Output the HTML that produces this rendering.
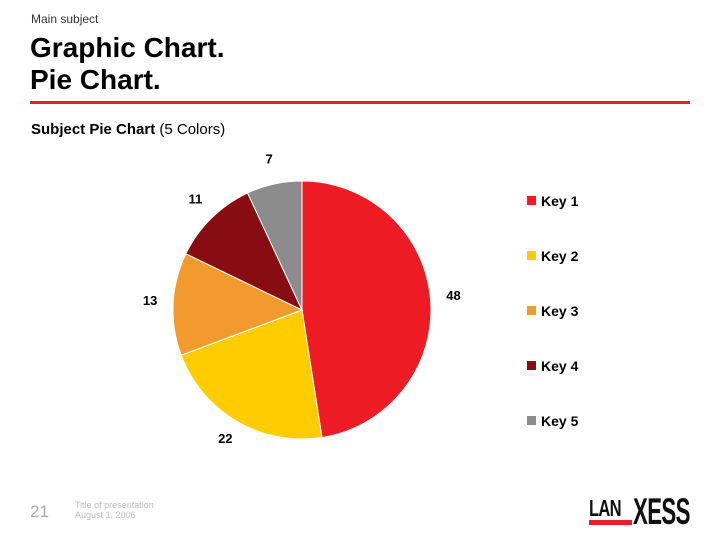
<!DOCTYPE html>
<html><head><meta charset="utf-8"><style>
body{margin:0;width:720px;height:540px;background:#fff;font-family:"Liberation Sans",Arial,sans-serif;position:relative;overflow:hidden}
.a{position:absolute;white-space:nowrap}
</style></head><body>
<div class="a" style="left:31px;top:12px;font-size:12px;color:#333">Main subject</div>
<div class="a" style="left:30px;top:32px;font-size:28px;font-weight:bold;line-height:32px;color:#000">Graphic Chart.<br>Pie Chart.</div>
<div class="a" style="left:30px;top:101px;width:660px;height:3px;background:#d9252f"></div>
<div class="a" style="left:31px;top:121px;font-size:15px;color:#000"><b>Subject Pie Chart</b> (5 Colors)</div>
<svg class="a" style="left:0;top:0" width="720" height="540" id="svg"></svg>
<div class="a" style="left:30px;top:502px;font-size:17px;color:#aaa">21</div>
<div class="a" style="left:75px;top:500px;font-size:9px;line-height:10px;color:#bbb">Title of presentation<br>August 1, 2006</div>
<div class="a" style="left:589px;top:495px;font-size:23px;font-weight:bold;color:#111;letter-spacing:-1px;transform:scaleX(0.72);transform-origin:left top">LAN</div>
<div class="a" style="left:633px;top:491px;font-size:37px;font-weight:bold;color:#111;letter-spacing:-1px;transform:scaleX(0.6);transform-origin:left top">XESS</div>
<div class="a" style="left:589px;top:520px;width:43px;height:5px;background:#e3202b"></div>
<script>
const categories=["Key 1","Key 2","Key 3","Key 4","Key 5"];
const values=[48,22,13,11,7];
const colors=["#ed1c24","#ffcc00","#f29a2e","#870d12","#8c8c8c"];
const svg=document.getElementById('svg');const NS="http://www.w3.org/2000/svg";
const cx=302,cy=310,r=129,lr=152;
const total=values.reduce((a,b)=>a+b,0);
let acc=0;
function pt(a,rad){return [cx+Math.sin(a)*rad,cy-Math.cos(a)*rad];}
values.forEach((v,i)=>{
const a0=acc/total*2*Math.PI;acc+=v;const a1=acc/total*2*Math.PI;
const p0=pt(a0,r),p1=pt(a1,r);
const p=document.createElementNS(NS,'path');
p.setAttribute('d',`M${cx},${cy}L${p0[0]},${p0[1]}A${r},${r} 0 ${a1-a0>Math.PI?1:0} 1 ${p1[0]},${p1[1]}Z`);
p.setAttribute('fill',colors[i]);p.setAttribute('stroke','#fff');p.setAttribute('stroke-width','1');


svg.appendChild(p);
const m=(a0+a1)/2,lp=pt(m,lr);
const t=document.createElementNS(NS,'text');
t.setAttribute('x',lp[0]);t.setAttribute('y',lp[1]+2);t.setAttribute('text-anchor','middle');
t.setAttribute('font-size','13');t.setAttribute('font-weight','bold');t.setAttribute('font-family','Liberation Sans, sans-serif');
t.textContent=v;


svg.appendChild(t);
const ly=201+55*i;
const s=document.createElementNS(NS,'rect');
s.setAttribute('x',527);s.setAttribute('y',ly-5);s.setAttribute('width',9);s.setAttribute('height',9);s.setAttribute('fill',colors[i]);


svg.appendChild(s);
const lt=document.createElementNS(NS,'text');
lt.setAttribute('x',541);lt.setAttribute('y',ly+5);lt.setAttribute('font-size','14');lt.setAttribute('font-weight','bold');lt.setAttribute('font-family','Liberation Sans, sans-serif');
lt.textContent=categories[i];


svg.appendChild(lt);
});
</script>
</body></html>
